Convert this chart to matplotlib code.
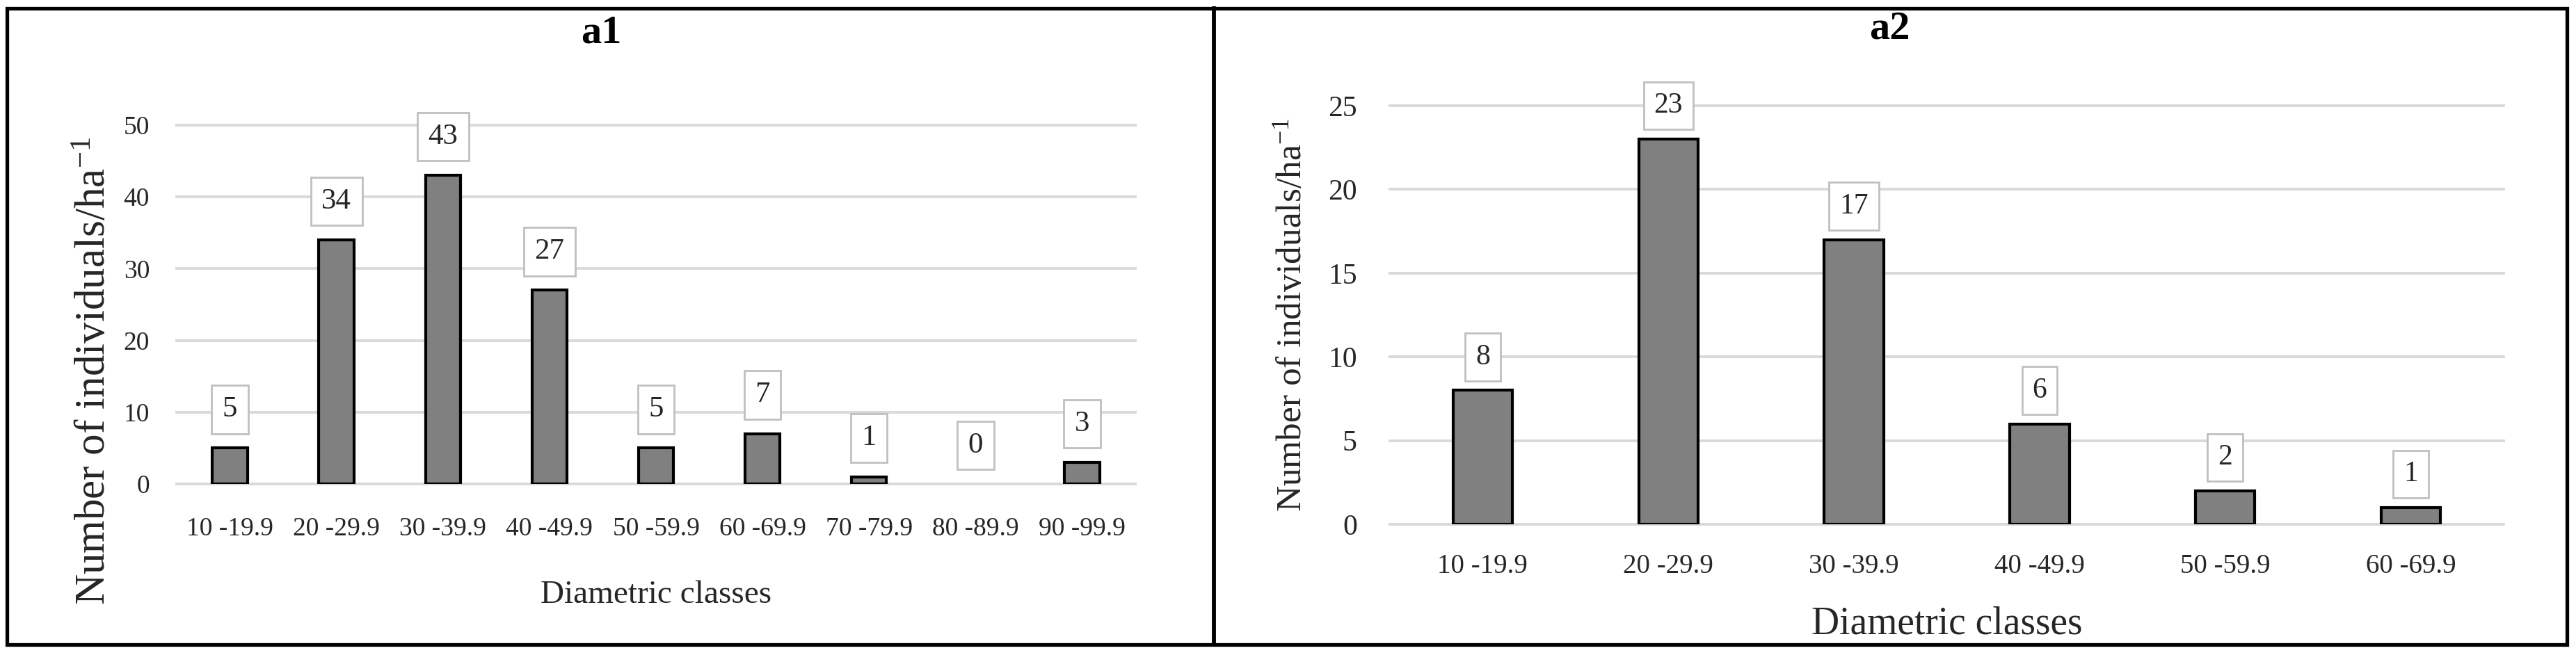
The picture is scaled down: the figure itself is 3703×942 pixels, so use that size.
import matplotlib
matplotlib.use('Agg')
import matplotlib.pyplot as plt
from matplotlib.patches import Rectangle
from matplotlib.lines import Line2D

plt.rcParams['font.family'] = ['Liberation Serif', 'DejaVu Serif']
plt.rcParams['mathtext.fontset'] = 'custom'
plt.rcParams['mathtext.rm'] = 'Liberation Serif'
plt.rcParams['mathtext.it'] = 'Liberation Serif:italic'

# Panel a1 data
a1_classes = ['10 -19.9', '20 -29.9', '30 -39.9', '40 -49.9', '50 -59.9',
              '60 -69.9', '70 -79.9', '80 -89.9', '90 -99.9']
a1_counts = [5, 34, 43, 27, 5, 7, 1, 0, 3]

# Panel a2 data
a2_classes = ['10 -19.9', '20 -29.9', '30 -39.9', '40 -49.9', '50 -59.9', '60 -69.9']
a2_counts = [8, 23, 17, 6, 2, 1]

W, H = 3703, 942
TXT = '#262626'
fig = plt.figure(figsize=(W / 100, H / 100), dpi=100)


def px_axes(left, top, right, bottom):
    # place axes using pixel coordinates of the reference
    return fig.add_axes([left / W, 1 - bottom / H, (right - left) / W, (bottom - top) / H])


def draw_panel(ax, classes, counts, ymax, ystep, width, fs):
    x = list(range(len(classes)))
    ax.set_axisbelow(True)
    # no outline for empty classes (Excel draws nothing there)
    edges = ['black' if v > 0 else 'none' for v in counts]
    ax.bar(x, counts, width=width, color='#808080', edgecolor=edges,
           linewidth=3, zorder=3)

    # boxed value labels above every bar
    for xi, v in zip(x, counts):
        ax.annotate(str(v), (xi, v), xytext=(0, fs['off']), textcoords='offset points',
                    ha='center', va='center', fontsize=fs['data'], color=TXT, zorder=4,
                    bbox=dict(boxstyle='square,pad=0.36', fc='white', ec='#c0c0c0', lw=2))

    ax.set_xlim(-0.5, len(classes) - 0.5)
    ax.set_ylim(0, ymax)
    ax.set_yticks(range(0, ymax + 1, ystep))
    ax.set_xticks(x)
    ax.set_xticklabels(classes)
    ax.yaxis.grid(True, color='#d9d9d9', linewidth=2.8)
    for gl in ax.get_ygridlines():
        gl.set_clip_on(False)
    for s in ax.spines.values():
        s.set_visible(False)
    ax.tick_params(axis='x', length=0, pad=fs['xpad'], labelsize=fs['xtick'], labelcolor=TXT)
    ax.tick_params(axis='y', length=0, pad=fs['ypad'], labelsize=fs['ytick'], labelcolor=TXT)

    ax.set_xlabel('Diametric classes', fontsize=fs['xlabel'], color=TXT)
    ax.xaxis.set_label_coords(0.5, fs['xlab_y'])
    ax.xaxis.label.set_va('center')
    ax.set_ylabel(r'Number of individuals/ha$^{-1}$', fontsize=fs['ylabel'], color=TXT)
    ax.yaxis.set_label_coords(fs['ylab_x'], fs['ylab_y'])
    ax.yaxis.label.set_va('center')


ax1 = px_axes(254, 180, 1632, 696)
draw_panel(ax1, a1_classes, a1_counts, 50, 10, 0.33,
           dict(off=40, data=31, xtick=27, ytick=27, xpad=34, ypad=28,
                xlabel=34, ylabel=44, xlab_y=-0.31, ylab_x=-0.0856, ylab_y=0.315))

ax2 = px_axes(1998, 152, 3599, 754)
draw_panel(ax2, a2_classes, a2_counts, 25, 5, 0.32,
           dict(off=34.5, data=30, xtick=28, ytick=30, xpad=30, ypad=34,
                xlabel=40, ylabel=37, xlab_y=-0.239, ylab_x=-0.0874, ylab_y=0.5))

# panel titles
fig.text(864 / W, 1 - 47 / H, 'a1', ha='center', va='center', fontsize=42, fontweight='bold')
fig.text(2716 / W, 1 - 42 / H, 'a2', ha='center', va='center', fontsize=42, fontweight='bold')

# outer frame and divider
fig.add_artist(Rectangle((9.5 / W, 1 - 927 / H), (3690 - 9.5) / W, (927 - 12) / H,
                         transform=fig.transFigure, fill=False, ec='black', lw=3.8))
fig.add_artist(Line2D([1745 / W, 1745 / W], [1 - 927 / H, 1 - 12 / H],
                      transform=fig.transFigure, color='black', lw=4.2))

fig.savefig('out.png', dpi=100)
